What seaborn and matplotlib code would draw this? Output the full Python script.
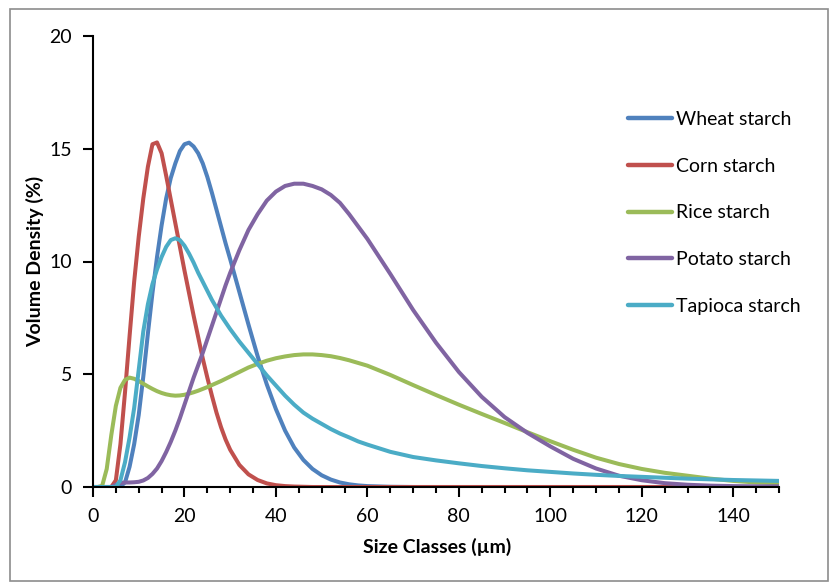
import numpy as np
import pandas as pd
import matplotlib
matplotlib.use("Agg")
import matplotlib.pyplot as plt
import seaborn as sns
from matplotlib.patches import Rectangle
from matplotlib.ticker import MultipleLocator

size_um = [0, 1, 2, 3, 4, 5, 6, 7, 8, 9, 10, 11, 12, 13, 14, 15, 16, 17, 18, 19, 20,
           21, 22, 23, 24, 25, 26, 27, 28, 29, 30,
           32, 34, 36, 38, 40, 42, 44, 46, 48, 50, 52, 54, 56, 58, 60,
           65, 70, 75, 80, 85, 90, 95, 100, 105, 110, 115, 120, 125, 130, 135, 140, 145, 150]

wheat = [0, 0, 0, 0, 0, 0, 0.02, 0.2, 0.9, 1.9, 3.2, 4.9, 6.8, 8.6, 10.2, 11.6, 12.8, 13.7, 14.35, 14.9, 15.2,
         15.27, 15.1, 14.8, 14.35, 13.75, 13.05, 12.3, 11.55, 10.8, 10.1,
         8.65, 7.2, 5.8, 4.55, 3.45, 2.5, 1.75, 1.2, 0.8, 0.52, 0.33, 0.2, 0.12, 0.07, 0.04,
         0.01, 0, 0, 0, 0, 0, 0, 0, 0, 0, 0, 0, 0, 0, 0, 0, 0, 0]
corn = [0, 0, 0, 0, 0, 0.3, 1.9, 4.2, 6.7, 9.1, 11.1, 12.8, 14.2, 15.2, 15.28, 14.8, 13.8, 12.75, 11.7, 10.65, 9.6,
        8.6, 7.6, 6.65, 5.7, 4.85, 4.05, 3.3, 2.65, 2.1, 1.65,
        0.98, 0.56, 0.31, 0.16, 0.08, 0.04, 0.02, 0.01, 0, 0, 0, 0, 0, 0, 0,
        0, 0, 0, 0, 0, 0, 0, 0, 0, 0, 0, 0, 0, 0, 0, 0, 0, 0]
rice = [0, 0, 0.05, 0.8, 2.3, 3.6, 4.4, 4.75, 4.85, 4.8, 4.7, 4.58, 4.46, 4.35, 4.25, 4.17, 4.11, 4.07, 4.05, 4.06, 4.09,
        4.14, 4.2, 4.27, 4.35, 4.43, 4.52, 4.61, 4.7, 4.8, 4.9,
        5.1, 5.3, 5.46, 5.6, 5.71, 5.79, 5.85, 5.88, 5.88, 5.85, 5.8, 5.72, 5.62, 5.5, 5.38,
        4.97, 4.52, 4.08, 3.65, 3.24, 2.84, 2.43, 2.03, 1.65, 1.3, 1.02, 0.8, 0.63, 0.5, 0.37, 0.27, 0.2, 0.17]
potato = [0, 0, 0, 0, 0, 0.1, 0.18, 0.2, 0.2, 0.21, 0.23, 0.29, 0.4, 0.58, 0.82, 1.15, 1.55, 2.0, 2.5, 3.05, 3.65,
          4.25, 4.85, 5.4, 5.95, 6.55, 7.15, 7.75, 8.35, 8.95, 9.5,
          10.5, 11.4, 12.1, 12.7, 13.1, 13.35, 13.45, 13.45, 13.35, 13.2, 12.95, 12.6, 12.1, 11.55, 11.0,
          9.45, 7.85, 6.4, 5.1, 4.0, 3.1, 2.4, 1.8, 1.25, 0.82, 0.5, 0.3, 0.17, 0.1, 0.06, 0.04, 0.03, 0.03]
tapioca = [0, 0, 0, 0, 0, 0, 0.3, 1.1, 2.2, 3.5, 5.2, 6.9, 8.1, 9.0, 9.65, 10.2, 10.65, 10.95, 11.03, 10.95, 10.7,
           10.35, 9.95, 9.5, 9.1, 8.7, 8.3, 7.95, 7.6, 7.3, 7.0,
           6.45, 5.95, 5.45, 4.95, 4.5, 4.05, 3.65, 3.3, 3.03, 2.8, 2.57, 2.37, 2.2, 2.02, 1.88,
           1.56, 1.33, 1.18, 1.05, 0.93, 0.83, 0.74, 0.67, 0.6, 0.54, 0.49, 0.45, 0.41, 0.37, 0.34, 0.31, 0.29, 0.27]

series_names = ["Wheat starch", "Corn starch", "Rice starch", "Potato starch", "Tapioca starch"]
series_values = [wheat, corn, rice, potato, tapioca]
colors = ["#4F81BD", "#C0504D", "#9BBB59", "#8064A2", "#4BACC6"]

df = pd.concat([pd.DataFrame({"Size": size_um, "Volume": v, "Starch": n})
                for n, v in zip(series_names, series_values)], ignore_index=True)

sns.set_theme(style="white")
plt.rcParams["font.family"] = ["Lato", "DejaVu Sans"]

fig = plt.figure(figsize=(8.32, 5.85), dpi=100)
ax = fig.add_axes([93/832, 1-487/585, (779-93)/832, (487-36)/585])

sns.lineplot(data=df, x="Size", y="Volume", hue="Starch", hue_order=series_names,
             palette=dict(zip(series_names, colors)), linewidth=2.9, ax=ax,
             estimator=None, sort=True)
for l in ax.get_lines():
    l.set_solid_capstyle("round")
    l.set_solid_joinstyle("round")

ax.set_xlim(0, 150)
ax.set_ylim(0, 20)
ax.xaxis.set_major_locator(MultipleLocator(20))
ax.xaxis.set_minor_locator(MultipleLocator(5))
ax.yaxis.set_major_locator(MultipleLocator(5))
for s in ["top", "right"]:
    ax.spines[s].set_visible(False)
for s in ["left", "bottom"]:
    ax.spines[s].set_color("black")
    ax.spines[s].set_linewidth(1.5)
ax.tick_params(axis="both", which="major", direction="out", length=7, width=1.5,
               color="black", labelsize=14, pad=8, labelcolor="black")
ax.tick_params(axis="x", which="minor", direction="out", length=4, width=1.5,
               color="black", bottom=True)
ax.tick_params(axis="x", which="major", bottom=True)
ax.tick_params(axis="y", which="major", left=True)

ax.set_xlabel("Size Classes (µm)", fontsize=14, fontweight="bold", color="black")
ax.set_ylabel("Volume Density (%)", fontsize=14, fontweight="bold", color="black")
ax.xaxis.set_label_coords((437-93)/686, (487-538)/451)
ax.yaxis.set_label_coords((44-93)/686, 0.5)

leg = ax.legend(loc="upper left", bbox_to_anchor=(628/832, 1-111/585),
                bbox_transform=fig.transFigure, frameon=False, fontsize=14,
                handlelength=2.25, handletextpad=0.2, labelspacing=1.53,
                borderpad=0, borderaxespad=0)
for t in leg.get_texts():
    t.set_color("black")
for h in leg.get_lines():
    h.set_linewidth(3.2)
    h.set_solid_capstyle("round")

fig.patches.append(Rectangle((10/832, 1-581/585), 818/832, 572/585, transform=fig.transFigure,
                             fill=False, edgecolor="#8c8c8c", linewidth=1.2))

fig.savefig("out.png", dpi=100)
